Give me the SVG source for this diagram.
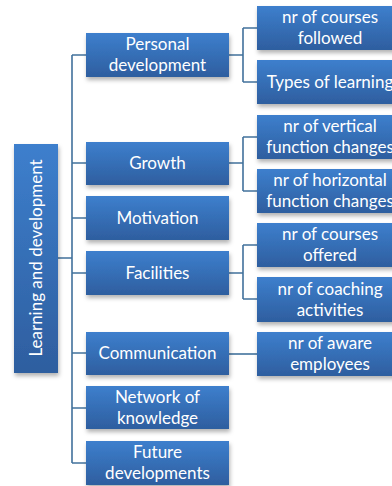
<svg xmlns="http://www.w3.org/2000/svg" width="392" height="486" viewBox="0 0 392 486">
<defs>
<linearGradient id="g" x1="0" y1="0" x2="0" y2="1">
<stop offset="0" stop-color="#3D7FCD"/>
<stop offset="1" stop-color="#2E5E9F"/>
</linearGradient>
<linearGradient id="gr" x1="0" y1="0" x2="1" y2="0">
<stop offset="0" stop-color="#3D7FCD"/>
<stop offset="1" stop-color="#2E5E9F"/>
</linearGradient>
<filter id="sh" x="-10%" y="-10%" width="130%" height="140%">
<feDropShadow dx="1" dy="3" stdDeviation="2" flood-color="#000" flood-opacity="0.3"/>
</filter>
</defs>
<style>
.b{fill:url(#g);filter:url(#sh)}
.t{fill:#fff;font-family:Lato,"Open Sans",sans-serif;font-size:17px;text-anchor:middle}
.c{fill:none;stroke:#41719C;stroke-width:1.6}
</style>
<rect width="392" height="486" fill="#fff"/>
<g id="connectors">
<path class="c" d="M58 258H72M72 55V463M72 55H86M72 163H86M72 218H86M72 273H86M72 353H86M72 408H86M72 463H86"/>
<path class="c" d="M229 55H243M243 28V82M243 28H257M243 82H257"/>
<path class="c" d="M229 163H243M243 137V191M243 137H257M243 191H257"/>
<path class="c" d="M229 273H243M243 245V299M243 245H257M243 299H257"/>
<path class="c" d="M229 354H257"/>
</g>
<g id="root"><rect class="b" x="14" y="144" width="44" height="229" fill="url(#gr)"/><text class="t" transform="translate(42 258) rotate(-90)">Learning and development</text></g>
<g id="personal"><rect class="b" x="86" y="33" width="143" height="44"/><text class="t" x="157.5" y="50">Personal</text><text class="t" x="157.5" y="71">development</text></g>
<g id="growth"><rect class="b" x="86" y="142" width="143" height="43"/><text class="t" x="157.5" y="169">Growth</text></g>
<g id="motivation"><rect class="b" x="86" y="196" width="143" height="44"/><text class="t" x="157.5" y="224">Motivation</text></g>
<g id="facilities"><rect class="b" x="86" y="251" width="143" height="44"/><text class="t" x="157.5" y="279">Facilities</text></g>
<g id="communication"><rect class="b" x="86" y="332" width="143" height="43"/><text class="t" x="157.5" y="359">Communication</text></g>
<g id="network"><rect class="b" x="86" y="386" width="143" height="43"/><text class="t" x="157.5" y="403">Network of</text><text class="t" x="157.5" y="424">knowledge</text></g>
<g id="future"><rect class="b" x="86" y="441" width="143" height="44"/><text class="t" x="157.5" y="458">Future</text><text class="t" x="157.5" y="479">developments</text></g>
<g id="courses-followed"><rect class="b" x="257" y="6" width="146" height="44"/><text class="t" x="330" y="23">nr of courses</text><text class="t" x="330" y="44">followed</text></g>
<g id="types-learning"><rect class="b" x="257" y="60" width="146" height="44"/><text class="t" x="330" y="88">Types of learning</text></g>
<g id="vertical"><rect class="b" x="257" y="115" width="146" height="44"/><text class="t" x="330" y="132">nr of vertical</text><text class="t" x="330" y="153">function changes</text></g>
<g id="horizontal"><rect class="b" x="257" y="169" width="146" height="44"/><text class="t" x="330" y="186">nr of horizontal</text><text class="t" x="330" y="207">function changes</text></g>
<g id="courses-offered"><rect class="b" x="257" y="223" width="146" height="44"/><text class="t" x="330" y="240">nr of courses</text><text class="t" x="330" y="261">offered</text></g>
<g id="coaching"><rect class="b" x="257" y="277" width="146" height="45"/><text class="t" x="330" y="295">nr of coaching</text><text class="t" x="330" y="316">activities</text></g>
<g id="aware"><rect class="b" x="257" y="332" width="146" height="44"/><text class="t" x="330" y="349">nr of aware</text><text class="t" x="330" y="370">employees</text></g>
</svg>
